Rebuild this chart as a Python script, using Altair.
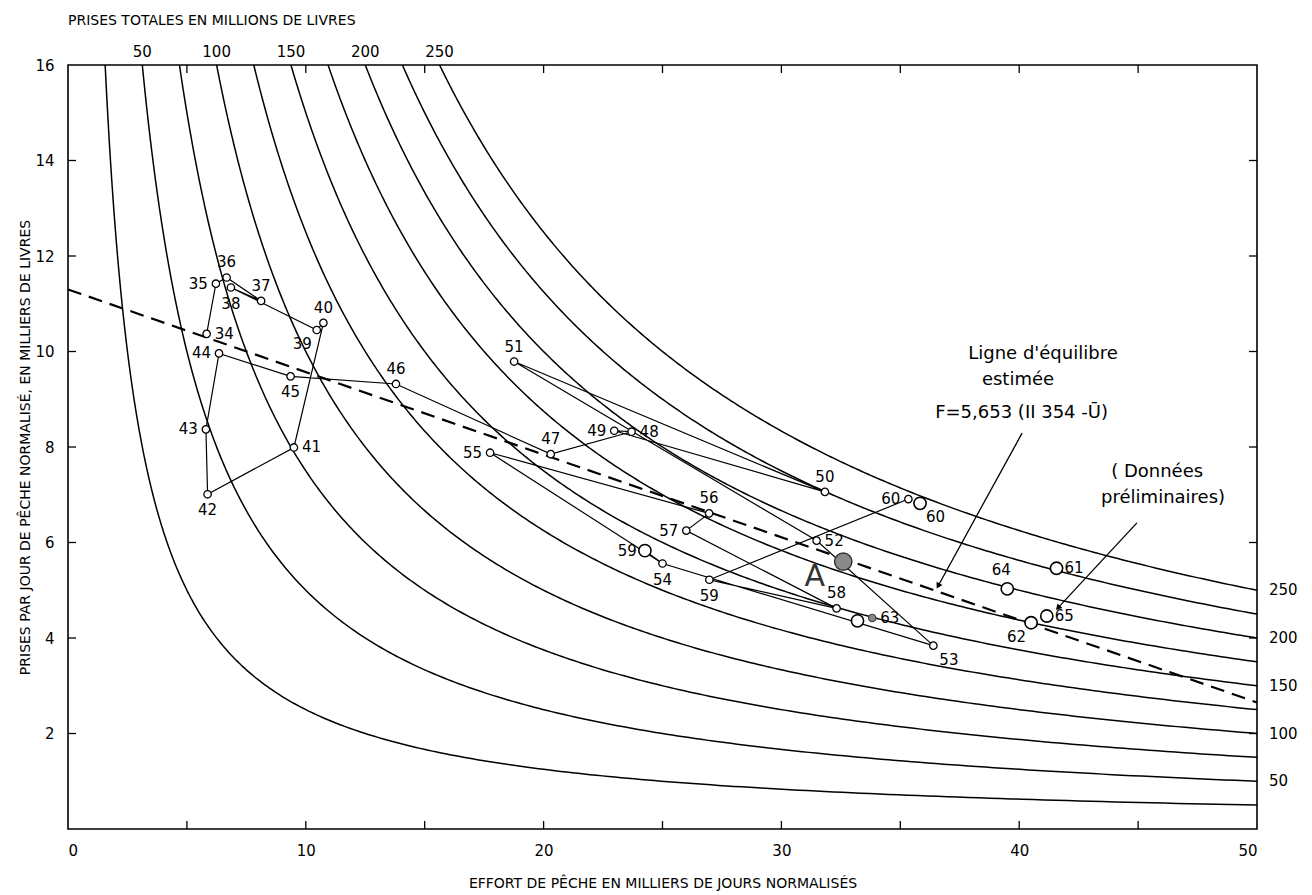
import altair as alt
import pandas as pd
import numpy as np

# ---------------- data ----------------
catch_levels = [25, 50, 75, 100, 125, 150, 175, 200, 225, 250]   # isolines, millions of lb
top_labels = [50, 100, 150, 200, 250]
right_labels = [250, 200, 150, 100, 50]

path_years = ["34", "35", "36", "37", "38", "39", "40", "41", "42", "43", "44", "45", "46",
              "47", "48", "49", "50", "51", "52", "53", "54", "55", "56", "57", "58", "59", "60"]
path_effort = [5.83, 6.22, 6.67, 8.12, 6.85, 10.46, 10.74, 9.50, 5.87, 5.80, 6.35, 9.36, 13.79,
               20.30, 23.70, 22.97, 31.83, 18.76, 31.48, 36.39, 25.00, 17.75, 26.96, 26.00, 32.32,
               26.97, 35.34]
path_cpue = [10.37, 11.42, 11.55, 11.06, 11.34, 10.45, 10.60, 7.99, 7.01, 8.37, 9.96, 9.48, 9.32,
             7.85, 8.32, 8.34, 7.06, 9.79, 6.04, 3.84, 5.56, 7.88, 6.61, 6.25, 4.62, 5.22, 6.91]
path_pos = ["r", "l", "a", "a", "b", "bl", "a", "r", "b", "l", "l", "b", "a",
            "a", "r", "l", "a", "a", "r", "br", "b", "l", "a", "l", "a", "b", "l"]

big_years = ["59", "60", "61", "62", "", "64", "65"]
big_effort = [24.26, 35.83, 41.57, 40.50, 33.20, 39.50, 41.16]
big_cpue = [5.83, 6.82, 5.46, 4.32, 4.36, 5.03, 4.46]
big_pos = ["l", "br", "r", "bl", "", "al", "r"]

filled_years = ["63"]
filled_effort = [33.82]
filled_cpue = [4.42]
filled_pos = ["r"]

point_a_effort = [32.6]
point_a_cpue = [5.6]

eq_effort = [0, 50]
eq_cpue = [11.3, 2.65]

ann_text = ["Ligne d'équilibre", "estimée", "F=5,653 (II 354 -Ū)", "( Données", "préliminaires)"]
ann_effort = [41.0, 39.95, 40.1, 45.8, 46.05]
ann_cpue = [9.95, 9.40, 8.71, 7.48, 6.93]

arrow_x0 = [40.12, 44.95]
arrow_y0 = [8.29, 6.41]
arrow_x1 = [36.59, 41.63]
arrow_y1 = [5.09, 4.63]

x_ticks = [5, 10, 15, 20, 25, 30, 35, 40, 45]
y_ticks = [2, 4, 6, 8, 10, 12, 14]

# ---------------- layout ----------------
W, H = 1189, 764
FONT = "DejaVu Sans"
XMAX, YMAX = 50, 16
pxx, pxy = W / XMAX, H / YMAX

xs = alt.Scale(domain=[0, XMAX], nice=False, zero=False)
ys = alt.Scale(domain=[0, YMAX], nice=False, zero=False)

x_axis = alt.Axis(values=[0, 10, 20, 30, 40, 50], ticks=False, domain=False, grid=False,
                  labelFontSize=15, labelPadding=14, labelColor="black", labelFont=FONT,
                  title="EFFORT DE PÊCHE EN MILLIERS DE JOURS NORMALISÉS",
                  titleFontSize=14, titleFontWeight="normal", titleColor="black",
                  titleFont=FONT, titlePadding=18)
y_axis = alt.Axis(values=[2, 4, 6, 8, 10, 12, 14, 16], ticks=False, domain=False, grid=False,
                  labelFontSize=15, labelPadding=14, labelColor="black", labelFont=FONT,
                  title="PRISES PAR JOUR DE PÊCHE NORMALISÉ, EN MILLIERS DE LIVRES",
                  titleFontSize=14, titleFontWeight="normal", titleColor="black",
                  titleFont=FONT, titlePadding=2)


def X(f="x"):
    return alt.X(f"{f}:Q", scale=xs, axis=x_axis)


def Y(f="y"):
    return alt.Y(f"{f}:Q", scale=ys, axis=y_axis)


# isolines of constant total catch
rows = []
for c in catch_levels:
    xv = np.geomspace(c / YMAX, XMAX, 300)
    for i, v in enumerate(xv):
        rows.append({"c": c, "i": i, "x": v, "y": c / v})
curves_df = pd.DataFrame(rows)
curves = alt.Chart(curves_df).mark_line(color="black", strokeWidth=1.5, clip=True).encode(
    x=X(), y=Y(), detail="c:N", order="i:Q")

# equilibrium line
eq_df = pd.DataFrame({"x": eq_effort, "y": eq_cpue})
eq_line = alt.Chart(eq_df).mark_line(color="black", strokeWidth=2.2, strokeDash=[14, 8]).encode(
    x=X(), y=Y())

# year path
path_df = pd.DataFrame({"i": range(len(path_years)), "x": path_effort, "y": path_cpue,
                        "lab": path_years, "pos": path_pos})
path_line = alt.Chart(path_df).mark_line(color="black", strokeWidth=1.2).encode(
    x=X(), y=Y(), order="i:Q")

seg_df = pd.DataFrame({"i": [0, 1], "x": [big_effort[0], path_effort[20]],
                       "y": [big_cpue[0], path_cpue[20]]})
seg_line = alt.Chart(seg_df).mark_line(color="black", strokeWidth=1.2).encode(
    x=X(), y=Y(), order="i:Q")

small_pts = alt.Chart(path_df).mark_point(shape="circle", size=55, filled=True, fill="white",
                                          stroke="black", strokeWidth=1.3, opacity=1).encode(
    x=X(), y=Y())

big_df = pd.DataFrame({"x": big_effort, "y": big_cpue, "lab": big_years, "pos": big_pos})
big_pts = alt.Chart(big_df).mark_point(shape="circle", size=150, filled=True, fill="white",
                                       stroke="black", strokeWidth=1.6, opacity=1).encode(
    x=X(), y=Y())

filled_df = pd.DataFrame({"x": filled_effort, "y": filled_cpue, "lab": filled_years,
                          "pos": filled_pos})
filled_pts = alt.Chart(filled_df).mark_point(shape="circle", size=55, filled=True, fill="#888888",
                                             stroke="#444444", strokeWidth=1.2, opacity=1).encode(
    x=X(), y=Y())

a_df = pd.DataFrame({"x": point_a_effort, "y": point_a_cpue})
a_pt = alt.Chart(a_df).mark_point(shape="circle", size=300, filled=True, fill="#8a8a8a",
                                  stroke="#333333", strokeWidth=1.5, opacity=1).encode(
    x=X(), y=Y())
a_txt = alt.Chart(pd.DataFrame({"x": [31.4], "y": [5.28], "t": ["A"]})).mark_text(
    fontSize=30, font=FONT, color="#333333", baseline="middle", align="center").encode(
    x=X(), y=Y(), text="t:N")

# year labels
lab_df = pd.concat([path_df[["x", "y", "lab", "pos"]], big_df, filled_df], ignore_index=True)
lab_df = lab_df[lab_df["lab"] != ""]
offsets = {"r": (8, 0, "left"), "l": (-8, 0, "right"), "a": (0, -15, "center"),
           "b": (0, 16, "center"), "br": (6, 14, "left"), "bl": (-5, 14, "right"),
           "al": (-6, -19, "center")}
label_layers = []
for code, (dx, dy, al) in offsets.items():
    sub = lab_df[lab_df["pos"] == code]
    if len(sub) == 0:
        continue
    label_layers.append(alt.Chart(sub).mark_text(
        dx=dx, dy=dy, align=al, baseline="middle", fontSize=15, font=FONT, color="black").encode(
        x=X(), y=Y(), text="lab:N"))

# annotations
ann_df = pd.DataFrame({"x": ann_effort, "y": ann_cpue, "t": ann_text})
ann = alt.Chart(ann_df).mark_text(fontSize=18, font=FONT, color="black", align="center",
                                  baseline="middle").encode(x=X(), y=Y(), text="t:N")

arr_df = pd.DataFrame({"x": arrow_x0, "y": arrow_y0, "x2": arrow_x1, "y2": arrow_y1})
arr_lines = alt.Chart(arr_df).mark_rule(color="black", strokeWidth=1.3).encode(
    x=X(), y=Y(), x2="x2:Q", y2="y2:Q")
head_rows = []
for x0, y0, x1, y1 in zip(arrow_x0, arrow_y0, arrow_x1, arrow_y1):
    ddx = (x1 - x0) * pxx
    ddy = -(y1 - y0) * pxy
    ang = (np.degrees(np.arctan2(ddx, -ddy)) + 360) % 360
    head_rows.append({"x": x1, "y": y1, "ang": float(ang)})
heads = alt.Chart(pd.DataFrame(head_rows)).mark_point(
    shape="triangle-up", size=45, filled=True, color="black", opacity=1).encode(
    x=X(), y=Y(), angle=alt.Angle("ang:Q", scale=None))

# inside ticks on the four sides
xt_df = pd.DataFrame({"x": x_ticks})
yt_df = pd.DataFrame({"y": y_ticks})
ticks_bottom = alt.Chart(xt_df).mark_rule(color="black", strokeWidth=1.3).encode(
    x=X(), y=alt.value(H), y2=alt.value(H - 8))
ticks_top = alt.Chart(xt_df).mark_rule(color="black", strokeWidth=1.3).encode(
    x=X(), y=alt.value(0), y2=alt.value(8))
ticks_left = alt.Chart(yt_df).mark_rule(color="black", strokeWidth=1.3).encode(
    y=Y(), x=alt.value(0), x2=alt.value(8))
ticks_right = alt.Chart(yt_df).mark_rule(color="black", strokeWidth=1.3).encode(
    y=Y(), x=alt.value(W), x2=alt.value(W - 8))

# catch labels: top and right
top_df = pd.DataFrame({"c": top_labels})
top_txt = alt.Chart(top_df).transform_calculate(x=f"datum.c / {YMAX}").mark_text(
    fontSize=15, font=FONT, color="black", align="center", baseline="middle").encode(
    x=X(), y=alt.value(-13), text="c:N")
right_df = pd.DataFrame({"c": right_labels})
right_txt = alt.Chart(right_df).transform_calculate(y=f"datum.c / {XMAX}").mark_text(
    fontSize=15, font=FONT, color="black", align="left", baseline="middle").encode(
    y=Y(), x=alt.value(W + 12), text="c:N")

top_title = alt.Chart(pd.DataFrame({"t": ["PRISES TOTALES EN MILLIONS DE LIVRES"]})).mark_text(
    fontSize=14, font=FONT, color="black", align="left", baseline="middle").encode(
    x=alt.value(0), y=alt.value(-44), text="t:N")

chart = alt.layer(
    curves, eq_line, path_line, seg_line, arr_lines, heads,
    small_pts, big_pts, filled_pts, a_pt, a_txt,
    *label_layers, ann,
    ticks_bottom, ticks_top, ticks_left, ticks_right,
    top_txt, right_txt, top_title,
).properties(
    width=W, height=H,
    autosize=alt.AutoSizeParams(type="none"),
    padding={"left": 68, "top": 65, "right": 55, "bottom": 62},
    background="white",
).configure_view(stroke="black", strokeWidth=1.6)

chart.save("out.html", embed_options={"renderer": "svg", "actions": False})
